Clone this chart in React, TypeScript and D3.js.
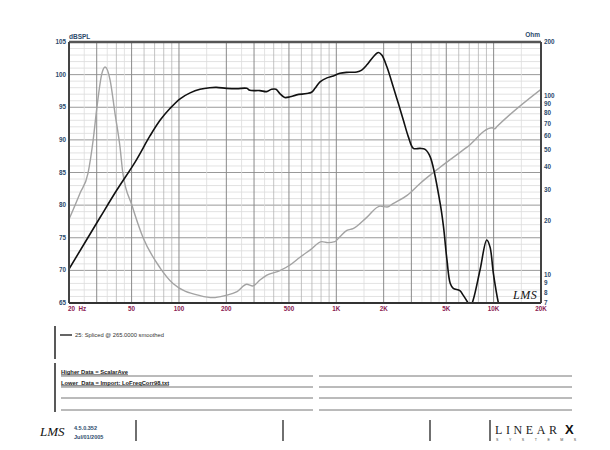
import React from "react";
import * as d3 from "d3";

// ---------- data ----------
const splFreq = [20, 31.5, 40, 52.6, 65.4, 75.8, 87.6, 101.6, 117.7, 136, 157, 173, 201, 233, 270, 282, 327, 360, 388, 414, 438, 470, 508, 559, 649, 696, 732, 788, 872, 958, 1054, 1164, 1350, 1450, 1566, 1720, 1850, 1946, 2096, 2300, 2478, 2666, 2868, 3088, 3406, 3670, 3952, 4568, 4800, 5050, 5300, 5540, 6100, 6400, 6880, 7100, 7420, 8200, 9040, 9480, 9960, 10720, 11500];
const splDb = [70.2, 78.1, 82.2, 86.6, 90.6, 93.0, 94.8, 96.3, 97.2, 97.75, 98.0, 98.05, 97.9, 97.85, 97.9, 97.6, 97.55, 97.4, 97.75, 97.75, 97.1, 96.5, 96.6, 96.9, 97.1, 97.3, 97.9, 98.9, 99.5, 99.8, 100.2, 100.35, 100.4, 100.7, 101.5, 102.75, 103.4, 103.0, 101.2, 98.15, 95.6, 93.05, 90.5, 88.7, 88.7, 88.55, 87.4, 80.3, 76.7, 71.6, 68.0, 67.25, 66.9, 66.2, 65.0, 64.4, 65.5, 70.1, 74.65, 73.6, 69.55, 65.0, 62.0];

const impFreq = [20, 23.5, 26.4, 28.5, 30.1, 32.4, 33.9, 36.5, 39.2, 42.2, 44, 50.3, 59, 75.8, 91.6, 136, 165, 196, 234, 270, 294, 327, 362, 438, 508, 588, 680, 810, 885, 980, 1054, 1168, 1278, 1568, 1898, 2102, 2296, 2818, 3406, 4568, 6776, 9800, 10150, 10500, 20000];
const impOhm = [20.5, 28.7, 37, 57, 86.6, 134, 145, 122.7, 80, 51.8, 37, 24.5, 16.3, 11.0, 9.0, 7.7, 7.5, 7.7, 8.1, 8.9, 8.7, 9.4, 10.0, 10.6, 11.4, 12.6, 13.8, 15.4, 15.2, 15.4, 16.4, 17.8, 18.2, 21.1, 24.3, 24.0, 25.1, 27.9, 32.5, 40, 51.8, 66.5, 65.5, 67.5, 109];

const xTickVals = [20, 50, 100, 200, 500, 1000, 2000, 5000, 10000, 20000];
const xTickLabels = ["20  Hz", "50", "100", "200", "500", "1K", "2K", "5K", "10K", "20K"];
const dbTicks = [65, 70, 75, 80, 85, 90, 95, 100, 105];
const ohmTicks = [7, 8, 9, 10, 20, 30, 40, 50, 60, 70, 80, 90, 100, 200];

const legendText = "25: Spliced @ 265.0000 smoothed";
const noteLines = ["Higher Data = ScalarAve", "Lower  Data = Import: LoFreqCorr98.txt", "", ""];
const versionText = ["4.5.0.352", "Jul/01/2005"];

// ---------- layout ----------
const W = 610, H = 450;
const L = 69, R = 541, T = 42, B = 303;

const x = d3.scaleLog().domain([20, 20000]).range([L, R]);
const yDb = d3.scaleLinear().domain([65, 105]).range([B, T]);
const yOhm = d3.scaleLog().domain([7, 200]).range([B, T]);

const blue = "#2b4a6b";
const maroon = "#8a2050";
const sans = "'Liberation Sans', Arial, sans-serif";

export default function App() {
  const mults = [1, 1.5, 2, 2.5, 3, 3.5, 4, 4.5, 5, 6, 7, 8, 9];
  const vlines: { f: number; c: string }[] = [];
  [10, 100, 1000, 10000].forEach((d) => {
    mults.forEach((m) => {
      const f = d * m;
      if (f < 20 || f > 20000) return;
      let c = "#b4b4b4";
      if ([1, 2, 3, 5].includes(m)) c = "#8a8a8a";
      else if (m % 1 !== 0) c = "#dcdcdc";
      vlines.push({ f, c });
    });
  });
  const hlines = d3.range(65, 106, 1);

  const splLine = d3
    .line<number>()
    .x((_, i) => x(splFreq[i]))
    .y((d) => yDb(d))
    .curve(d3.curveCatmullRom.alpha(0.5));
  const impLine = d3
    .line<number>()
    .x((_, i) => x(impFreq[i]))
    .y((d) => yOhm(d))
    .curve(d3.curveMonotoneX);

  const noteY = [376, 387, 398, 410];

  return (
    <svg width={W} height={H} style={{ position: "absolute", left: 0, top: 0, background: "#fff" }} fontFamily={sans}>
      <defs>
        <clipPath id="plot">
          <rect x={L} y={T} width={R - L} height={B - T} />
        </clipPath>
      </defs>
      <rect x={0} y={0} width={W} height={H} fill="#fff" />
      {/* horizontal grid */}
      {hlines.map((v) => (
        <line key={"h" + v} x1={L} x2={R} y1={yDb(v)} y2={yDb(v)} stroke={v % 5 === 0 ? "#999" : "#dadada"} strokeWidth={v % 5 === 0 ? 1 : 0.8} />
      ))}
      {/* vertical grid */}
      {vlines.map((v) => (
        <line key={"v" + v.f} x1={x(v.f)} x2={x(v.f)} y1={T} y2={B} stroke={v.c} strokeWidth={v.c === "#8a8a8a" ? 1 : 0.8} />
      ))}
      {/* curves */}
      <g clipPath="url(#plot)">
        <path d={impLine(impOhm) || ""} fill="none" stroke="#a3a3a3" strokeWidth={1.4} />
        <path d={splLine(splDb) || ""} fill="none" stroke="#111" strokeWidth={1.6} />
      </g>
      {/* frame */}
      <line x1={L} x2={R} y1={T} y2={T} stroke="#555" strokeWidth={2.5} />
      <line x1={L} x2={L} y1={T} y2={B} stroke="#444" strokeWidth={2} />
      <line x1={R} x2={R} y1={T} y2={B} stroke="#444" strokeWidth={2} />
      <line x1={L} x2={R} y1={B} y2={B} stroke="#333" strokeWidth={2} />

      {/* left axis */}
      <text x={L} y={39} fontSize={6.5} fontWeight="bold" fill={blue}>dBSPL</text>
      {dbTicks.map((v) => (
        <text key={"d" + v} x={L - 3} y={yDb(v) + 2} fontSize={6.3} fontWeight="bold" fill={blue} textAnchor="end">{v}</text>
      ))}
      {/* right axis */}
      <text x={R - 1} y={37} fontSize={6.5} fontWeight="bold" fill={blue} textAnchor="end">Ohm</text>
      {ohmTicks.map((v) => (
        <text key={"o" + v} x={R + 3} y={yOhm(v) + 2} fontSize={6.3} fontWeight="bold" fill={blue}>{v}</text>
      ))}
      {/* bottom axis */}
      {xTickVals.map((v, i) => (
        <text key={"x" + v} x={x(v) + (i === 0 ? -1 : 0)} y={311} fontSize={6.3} fontWeight="bold" fill={maroon} textAnchor={i === 0 ? "start" : "middle"} style={{ whiteSpace: "pre" }}>{xTickLabels[i]}</text>
      ))}
      {/* LMS signature in plot */}
      <text x={513} y={299} fontSize={12} fontStyle="italic" fontFamily="'Liberation Serif', serif" fill="#111" letterSpacing={0.5}>LMS</text>

      {/* legend block */}
      <line x1={55} x2={55} y1={326} y2={359} stroke="#222" strokeWidth={1.5} />
      <line x1={60} x2={72} y1={335} y2={335} stroke="#111" strokeWidth={1.3} />
      <text x={75} y={337} fontSize={5.8} fill="#333">{legendText}</text>

      {/* notes block */}
      <line x1={55} x2={55} y1={363} y2={412} stroke="#222" strokeWidth={1.5} />
      {noteY.map((y, i) => (
        <g key={"n" + i}>
          <line x1={61} x2={313} y1={y} y2={y} stroke="#777" strokeWidth={1} />
          <line x1={319} x2={572} y1={y} y2={y} stroke="#777" strokeWidth={1} />
          {noteLines[i] && (
            <text x={61} y={y - 2.5} fontSize={5.8} fontWeight="bold" fill="#222" textDecoration="underline" style={{ whiteSpace: "pre" }}>{noteLines[i]}</text>
          )}
        </g>
      ))}

      {/* footer */}
      <text x={40} y={436} fontSize={13} fontStyle="italic" fontFamily="'Liberation Serif', serif" fill="#111">LMS</text>
      <text x={74} y={430} fontSize={5.5} fontWeight="bold" fill={blue}>{versionText[0]}</text>
      <text x={74} y={439} fontSize={5.5} fontWeight="bold" fill={blue}>{versionText[1]}</text>
      {[136, 283, 430, 490].map((xx) => (
        <line key={"f" + xx} x1={xx} x2={xx} y1={420} y2={441} stroke="#222" strokeWidth={1.3} />
      ))}
      <text x={495} y={434} fontSize={12} fontFamily="'Liberation Serif', serif" fill="#222" letterSpacing={3.6}>LINEAR</text>
      <text x={565} y={434} fontSize={13} fontWeight="bold" fontFamily={sans} fill="#111">X</text>
      <text x={496} y={441} fontSize={3.6} fill="#444" letterSpacing={10.5}>SYSTEMS</text>
    </svg>
  );
}
